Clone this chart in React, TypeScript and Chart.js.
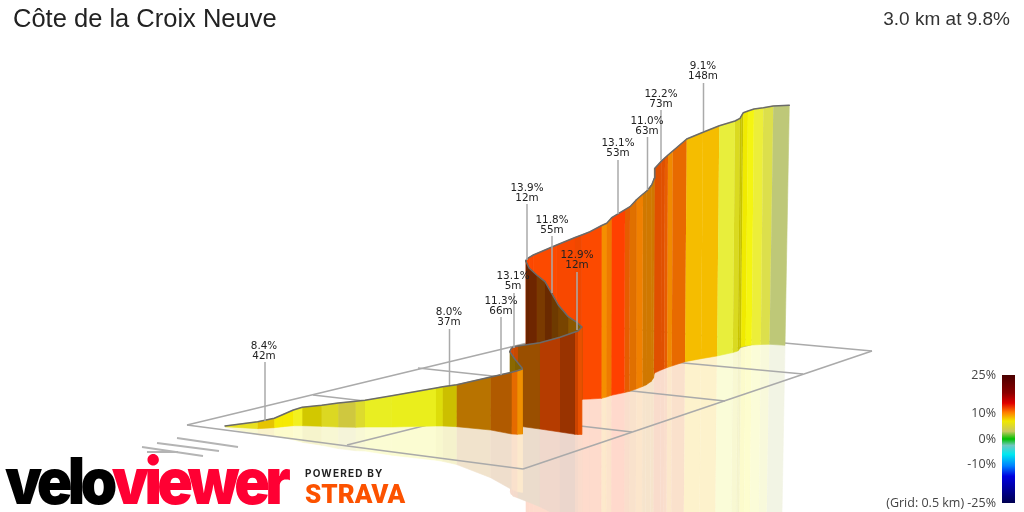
import React, { useEffect, useRef } from "react";
import { Chart, registerables } from "chart.js";

Chart.register(...registerables);

// first climbing face, nearest the viewer
const band1TopX = [225, 257.7, 274.3, 283, 293.3, 302.3, 321.7, 338.3, 355.7, 365, 391.7, 436, 442.7, 456.7, 490.7, 511.7, 517.3, 522.3];
const band1TopY = [426, 421.7, 418.3, 414.5, 410, 407.3, 405.3, 403, 401.3, 400.3, 395.7, 388, 386.7, 384.7, 377, 372.3, 370.7, 369];
const band1BaseY = [426.7, 428.7, 427.7, 426.7, 425.7, 425.7, 426.3, 427, 427.3, 427, 427, 426, 426, 426.7, 430, 434, 434.3, 434];
const band1Colors = ["#e8e020", "#e6c400", "#f6ea00", "#f6ea00", "#f2f020", "#d2c800", "#dcd822", "#cfc83f", "#dddb2e", "#e9ee22", "#eaee1c", "#dddd0a", "#ccbf00", "#b87300", "#b05a00", "#e56b00", "#f09000"];

// small turn between the first and second faces
const curlTopX = [509.7, 515, 522.3];
const curlTopY = [351.7, 359.3, 368.3];
const curlBaseY = [425, 429, 434];
const curlColors = ["#8a6800", "#806000"];

// second face
const band2TopX = [510, 511.3, 513.3, 518, 540, 560, 575, 578, 581.7];
const band2TopY = [351, 348.5, 346.9, 346, 342.7, 337.3, 332, 331, 327];
const band2BaseY = [425, 425.2, 425.5, 426, 429, 432, 434.3, 434.5, 434.5];
const band2Colors = ["#d44800", "#d44800", "#c84a00", "#9a4f00", "#b53c00", "#993300", "#cc4400", "#e85000"];

// inside of the hairpin
const innerTopX = [525.7, 529.3, 536.7, 545, 551.7, 558.3, 568.3, 577.3, 581.7];
const innerTopY = [261, 268.3, 275, 281.7, 293.3, 305, 316.7, 322.7, 326.7];
const innerBaseY = [400, 400, 400, 400, 400, 400, 400, 400, 400];
const innerColors = ["#6b2400", "#6e2600", "#7a3a00", "#6a2a00", "#6e3a00", "#784400", "#8a5800", "#8a6000"];

// long far face up to the summit
const mainTopX = [525.7, 527, 529.3, 533.3, 556.7, 575, 581.7, 590, 601.7, 606.7, 611.7, 625, 630, 636.7, 643, 646.7, 651.7, 654.3, 654.8, 661.7, 665, 668, 672.7, 686.7, 703, 719.3, 735, 740, 741.7, 743.3, 748, 754, 763.3, 773.3, 789.3];
const mainTopY = [260.7, 259, 257.3, 255, 245, 237.5, 235, 231.7, 225.5, 223.3, 217.7, 209.7, 206.7, 199.5, 194, 191, 185, 178.3, 168.3, 160.7, 157.7, 155, 151, 139, 132.3, 125.7, 121, 118.3, 115.3, 112.7, 111, 109, 107.7, 106, 105.3];
const mainBaseX = [525.7, 527, 529.3, 533.3, 556.7, 575, 581.7, 590, 601.5, 606.5, 611.4, 624.6, 629.6, 636.2, 642.5, 646, 651, 653.5, 654, 661, 664.3, 667.2, 671.8, 685, 701, 717, 732.8, 737.8, 739.4, 741, 745.7, 751.7, 760.8, 769.5, 785];
const mainBaseY = [400, 400, 400, 400, 400, 399.5, 399.3, 399, 398.3, 397, 395.3, 392.5, 391.3, 389, 386.5, 385, 381.5, 378, 373.3, 370, 368.7, 367.5, 366, 361.7, 358.7, 356, 352.5, 351, 349, 347, 346, 345, 344.5, 344.3, 345.3];
const mainColors = ["#fc4800", "#fc4800", "#fc4800", "#fc4a00", "#f84800", "#f04800", "#fc4a00", "#fc4a00", "#f58f00", "#ee7a00", "#ff4000", "#e65c00", "#e07000", "#f08000", "#d07800", "#d07800", "#d07800", "#d07800", "#e05000", "#e05000", "#e85c00", "#f08a00", "#e86a00", "#f5bd00", "#f5bd00", "#e8ee3c", "#dada20", "#c8c400", "#c8c400", "#f0ea00", "#f5f510", "#ecee3a", "#dcdf4c", "#bec878"];

// ground grid, one entry per line
const gridFromX = [187, 598, 872, 523, 313, 418, 510, 347];
const gridFromY = [425, 326, 351, 469, 395, 368, 347, 445];
const gridToX = [598, 872, 523, 187, 632, 725, 803, 757];
const gridToY = [326, 351, 469, 425, 432, 401, 374, 343];

// grey scale marks by the logo
const markFromX = [177, 157, 142, 147];
const markFromY = [438, 443, 447, 452];
const markToX = [238, 219, 203, 178];
const markToY = [447, 451, 456, 452];

// climb annotations
const notePercent = ["8.4%", "8.0%", "11.3%", "13.1%", "13.9%", "11.8%", "12.9%", "13.1%", "11.0%", "12.2%", "9.1%"];
const noteLength = ["42m", "37m", "66m", "5m", "12m", "55m", "12m", "53m", "63m", "73m", "148m"];
const noteX = [264, 449, 501, 513, 527, 552, 577, 618, 647, 661, 703];
const noteTextY = [346, 312, 301, 276, 188, 220, 255, 143, 121, 94, 66];
const noteLineX = [265, 449.5, 501, 514, 527, 552, 577, 618, 647.5, 661, 703.5];
const noteLineTop = [362, 329, 317, 293, 204, 236, 272, 160, 137, 110, 83];
const noteLineEnd = [421, 385, 375, 348, 260, 293, 330, 214, 190, 160, 131];

const scaleLabels = ["25%", "10%", "0%", "-10%", "(Grid: 0.5 km) -25%"];
const scaleLabelTops = [366, 404, 430, 455, 494];

const REFLECT = 0.9;

const pastel = (hex: string) => {
  const n = parseInt(hex.slice(1), 16);
  const mix = (v: number) => Math.round(255 - (255 - v) * 0.2);
  return `rgb(${mix(n >> 16)},${mix((n >> 8) & 255)},${mix(n & 255)})`;
};

const shape = (pts: { x: number; y: number }[], color: string) => ({
  data: pts,
  showLine: true,
  fill: "shape",
  backgroundColor: color,
  borderColor: color,
  borderWidth: 0.6,
  pointRadius: 0,
  tension: 0,
});

const stroke = (pts: { x: number; y: number }[], color: string, width: number) => ({
  data: pts,
  showLine: true,
  fill: false,
  borderColor: color,
  borderWidth: width,
  pointRadius: 0,
  tension: 0,
});

const faces = (topX: number[], topY: number[], baseX: number[], baseY: number[], colors: string[]) =>
  colors.map((c, i) =>
    shape(
      [
        { x: topX[i], y: topY[i] },
        { x: topX[i + 1], y: topY[i + 1] },
        { x: baseX[i + 1], y: baseY[i + 1] },
        { x: baseX[i], y: baseY[i] },
      ],
      c
    )
  );

const mirrors = (topX: number[], topY: number[], baseX: number[], baseY: number[], colors: string[]) =>
  colors.map((c, i) => {
    const low = (j: number) => ({
      x: baseX[j] - (topX[j] - baseX[j]) * REFLECT,
      y: baseY[j] + (baseY[j] - topY[j]) * REFLECT,
    });
    return shape(
      [
        { x: baseX[i], y: baseY[i] },
        { x: baseX[i + 1], y: baseY[i + 1] },
        low(i + 1),
        low(i),
      ],
      pastel(c)
    );
  });

const edge = (xs: number[], ys: number[]) =>
  ({ ...stroke(xs.map((x, i) => ({ x, y: ys[i] })), "#6a6a6a", 1.5), borderJoinStyle: "round", borderCapStyle: "round" });

const segments = (ax: number[], ay: number[], bx: number[], by: number[], color: string, width: number) =>
  ax.map((x, i) => stroke([{ x, y: ay[i] }, { x: bx[i], y: by[i] }], color, width));

const noteText = {
  id: "noteText",
  afterDatasetsDraw(chart: Chart) {
    const { ctx, scales } = chart;
    ctx.save();
    ctx.font = "10.4px 'DejaVu Sans'";
    ctx.fillStyle = "#222222";
    ctx.textAlign = "center";
    ctx.textBaseline = "middle";
    noteX.forEach((x, i) => {
      const px = scales.x.getPixelForValue(x);
      ctx.fillText(notePercent[i], px, scales.y.getPixelForValue(noteTextY[i]));
      ctx.fillText(noteLength[i], px, scales.y.getPixelForValue(noteTextY[i] + 10.5));
    });
    ctx.restore();
  },
};

const App = () => {
  const canvasRef = useRef<HTMLCanvasElement>(null);

  useEffect(() => {
    if (!canvasRef.current) return;

    // painted back to front, Chart.js draws the first dataset last
    const painted = [
      ...mirrors(mainTopX, mainTopY, mainBaseX, mainBaseY, mainColors),
      ...mirrors(band2TopX, band2TopY, band2TopX, band2BaseY, band2Colors),
      ...mirrors(band1TopX, band1TopY, band1TopX, band1BaseY, band1Colors),
      ...segments(gridFromX, gridFromY, gridToX, gridToY, "#aaaaaa", 1.5),
      ...segments(markFromX, markFromY, markToX, markToY, "#b4b4b4", 2),
      ...faces(mainTopX, mainTopY, mainBaseX, mainBaseY, mainColors),
      edge(mainTopX, mainTopY),
      ...faces(innerTopX, innerTopY, innerTopX, innerBaseY, innerColors),
      edge(innerTopX, innerTopY),
      ...faces(band2TopX, band2TopY, band2TopX, band2BaseY, band2Colors),
      edge(band2TopX, band2TopY),
      ...faces(curlTopX, curlTopY, curlTopX, curlBaseY, curlColors),
      edge(curlTopX, curlTopY),
      ...faces(band1TopX, band1TopY, band1TopX, band1BaseY, band1Colors),
      edge(band1TopX, band1TopY),
      ...noteX.map((_, i) =>
        stroke([{ x: noteLineX[i], y: noteLineTop[i] }, { x: noteLineX[i], y: noteLineEnd[i] }], "#aaaaaa", 1.5)
      ),
    ];

    const chart = new Chart(canvasRef.current, {
      type: "scatter",
      data: { datasets: painted.reverse() as any },
      options: {
        responsive: false,
        animation: false,
        devicePixelRatio: 1,
        layout: { padding: 0 },
        events: [],
        scales: {
          x: { type: "linear", min: 0, max: 1024, display: false },
          y: { type: "linear", min: 0, max: 512, reverse: true, display: false },
        },
        plugins: {
          legend: { display: false },
          tooltip: { enabled: false },
        },
      },
      plugins: [noteText],
    });

    return () => chart.destroy();
  }, []);

  const sans = "'Liberation Sans', Arial, sans-serif";

  return (
    <div style={{ position: "absolute", left: 0, top: 0, width: 1024, height: 512, overflow: "hidden", background: "#fff" }}>
      <canvas ref={canvasRef} width={1024} height={512} style={{ position: "absolute", left: 0, top: 0 }} />

      <div style={{ position: "absolute", left: 13, top: 4, font: `25.5px ${sans}`, color: "#222", whiteSpace: "nowrap" }}>
        Côte de la Croix Neuve
      </div>
      <div style={{ position: "absolute", right: 14, top: 8, font: `19px ${sans}`, color: "#333", whiteSpace: "nowrap" }}>
        3.0 km at 9.8%
      </div>

      {scaleLabels.map((t, i) => (
        <div
          key={t}
          style={{ position: "absolute", right: 28, top: scaleLabelTops[i], font: "12.5px 'Open Sans', sans-serif", color: "#444", whiteSpace: "nowrap" }}
        >
          {t}
        </div>
      ))}
      <div
        style={{
          position: "absolute",
          left: 1002,
          top: 375,
          width: 13,
          height: 128,
          background:
            "linear-gradient(#4a0000 0%, #8b0000 14%, #e00000 22%, #ff7a00 29%, #f0e800 36%, #c8c860 44%, #00c000 50%, #70c8c0 55%, #00e8f0 62%, #0080ff 71%, #0000e0 79%, #000050 100%)",
        }}
      />

      <div
        style={{
          position: "absolute",
          left: 5,
          top: 442,
          font: "900 64px Inter, sans-serif",
          letterSpacing: "-5px",
          whiteSpace: "nowrap",
          transformOrigin: "left top",
          transform: "scaleX(0.92)",
        }}
      >
        <span style={{ color: "#000" }}>velo</span>
        <span style={{ color: "#ff0033" }}>viewer</span>
      </div>
      <div style={{ position: "absolute", left: 305, top: 467, font: "700 10px Inter, sans-serif", letterSpacing: "1.2px", color: "#222", whiteSpace: "nowrap" }}>
        POWERED BY
      </div>
      <div style={{ position: "absolute", left: 305, top: 479, font: "900 26px Roboto, sans-serif", color: "#fc5200", whiteSpace: "nowrap" }}>
        STRAVA
      </div>
    </div>
  );
};

export default App;
